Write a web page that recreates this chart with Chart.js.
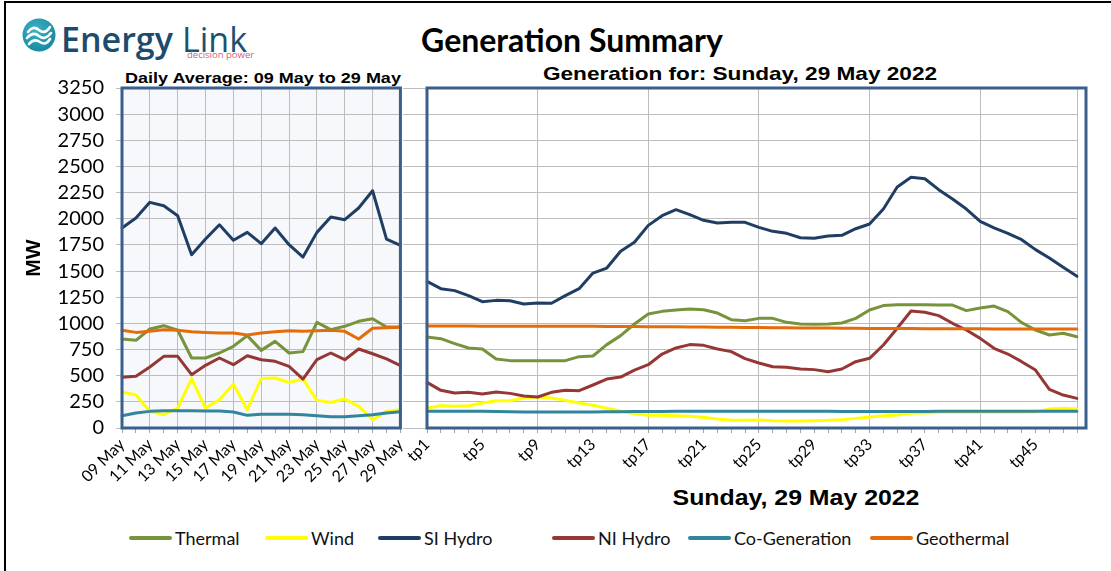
<!DOCTYPE html>
<html>
<head>
<meta charset="utf-8">
<script src="https://cdn.jsdelivr.net/npm/chart.js@4.4.1/dist/chart.umd.min.js"></script>
<style>
  body { margin: 0; background: #fff; width: 1111px; height: 571px; overflow: hidden; position: relative; }
  .t { position: absolute; white-space: nowrap; line-height: 1; color: #000; }
  .arialb { font-family: "Liberation Sans", Arial, sans-serif; font-weight: bold; }
  canvas { position: absolute; }
  .lg { position: absolute; top: 529px; height: 20px; font: 18px Lato, sans-serif; color: #111; white-space: nowrap; }
  .lg i { position: absolute; left: 0; top: 7px; width: 43px; height: 4px; border-radius: 2px; }
  .lg span { position: absolute; left: 46px; top: 0; line-height: 1; }
</style>
</head>
<body>
<div style="position:absolute;left:4px;top:1px;width:2px;height:570px;background:#000"></div>
<div style="position:absolute;left:4px;top:1px;width:1107px;height:2px;background:#000"></div>

<!-- logo -->
<svg style="position:absolute;left:20px;top:16px" width="38" height="38" viewBox="0 0 38 38">
  <defs><radialGradient id="lg1" cx="40%" cy="35%" r="70%"><stop offset="0" stop-color="#3db3c4"/><stop offset="1" stop-color="#17879d"/></radialGradient></defs>
  <circle cx="19" cy="19" r="16.5" fill="url(#lg1)"/>
  <path d="M8 16 q5 -7 11 -2 t11 -3" stroke="#fff" stroke-width="2.6" fill="none" stroke-linecap="round"/>
  <path d="M7 22 q6 -7 12 -2 t12 -3" stroke="#fff" stroke-width="2.6" fill="none" stroke-linecap="round"/>
  <path d="M9 28 q5 -6 11 -2 t10 -3" stroke="#fff" stroke-width="2.6" fill="none" stroke-linecap="round"/>
</svg>
<div class="t" style="left:61px;top:16px;font:600 34px 'Open Sans',sans-serif;color:#1c4c6d">Energy</div>
<div class="t" style="left:182px;top:16px;font:400 34px 'Open Sans',sans-serif;color:#1c5070">Link</div>
<div class="t" style="left:187px;top:48px;font:400 9.5px 'Open Sans',sans-serif;color:#d0607a">decision power</div>

<div class="t" style="left:572px;top:20px;font:bold 32px Lato,sans-serif;transform:translateX(-50%)">Generation Summary</div>
<div class="t arialb" style="left:263px;top:70px;font-size:15px;transform:translateX(-50%) scaleX(1.2)">Daily Average: 09 May to 29 May</div>
<div class="t arialb" style="left:740px;top:64px;font-size:19px;transform:translateX(-50%) scaleX(1.19)">Generation for: Sunday, 29 May 2022</div>
<div class="t arialb" style="left:796px;top:487px;font-size:22px;transform:translateX(-50%) scaleX(1.13)">Sunday, 29 May 2022</div>

<canvas id="daily" width="416" height="426" style="left:0;top:64px"></canvas>
<canvas id="day" width="700" height="420" style="left:400px;top:70px"></canvas>
<div id="legend"></div>

<script>
// series, in legend order
const seriesNames = ['Thermal', 'Wind', 'SI Hydro', 'NI Hydro', 'Co-Generation', 'Geothermal']
const seriesColors = ['#77933C', '#FFFF00', '#203E63', '#953735', '#31859C', '#E46C0A']

// left panel: daily averages 09 May - 29 May
const dailyDates = ['09 May', '10 May', '11 May', '12 May', '13 May', '14 May', '15 May', '16 May', '17 May', '18 May',
  '19 May', '20 May', '21 May', '22 May', '23 May', '24 May', '25 May', '26 May', '27 May', '28 May', '29 May']
const dailyThermal = [851, 838, 946, 978, 934, 669, 669, 717, 781, 883, 742, 828, 717, 730, 1010, 940, 972, 1020, 1045, 965, 965]
const dailyWind = [344, 315, 159, 127, 191, 472, 191, 271, 421, 175, 472, 478, 436, 468, 264, 245, 277, 207, 80, 159, 175]
const dailySI = [1912, 2007, 2157, 2125, 2029, 1657, 1806, 1943, 1794, 1870, 1762, 1912, 1752, 1634, 1870, 2017, 1991, 2103, 2268, 1806, 1746]
const dailyNI = [484, 494, 583, 685, 685, 510, 599, 669, 605, 691, 653, 637, 589, 468, 653, 717, 653, 755, 710, 660, 596]
const dailyCogen = [118, 143, 159, 166, 166, 166, 162, 162, 153, 121, 131, 131, 131, 127, 118, 108, 108, 118, 127, 143, 156]
const dailyGeo = [934, 914, 924, 940, 934, 920, 914, 908, 908, 889, 908, 920, 930, 924, 930, 934, 924, 851, 953, 959, 962]

// right panel: trading periods for Sunday 29 May 2022
const tpLabels = Array.from({ length: 48 }, (_, i) => 'tp' + (i + 1))
const tpThermal = [870, 854, 806, 765, 755, 660, 644, 644, 644, 644, 644, 682, 688, 797, 883, 994, 1090, 1115, 1128, 1137,
  1131, 1099, 1035, 1026, 1048, 1048, 1010, 994, 991, 994, 1004, 1048, 1128, 1170, 1178, 1178, 1178, 1176, 1175, 1122,
  1147, 1166, 1112, 1007, 937, 889, 905, 873]
const tpWind = [191, 213, 207, 213, 239, 261, 261, 287, 296, 287, 264, 239, 217, 188, 162, 137, 121, 121, 118, 112,
  102, 86, 73, 73, 76, 70, 67, 67, 70, 73, 80, 92, 105, 118, 124, 140, 143, 147, 150, 150,
  150, 150, 150, 150, 152, 181, 188, 181]
const tpSI = [1402, 1332, 1313, 1265, 1207, 1220, 1217, 1185, 1195, 1192, 1265, 1332, 1481, 1529, 1689, 1775, 1937, 2029, 2087, 2039,
  1985, 1959, 1966, 1966, 1918, 1880, 1861, 1819, 1813, 1835, 1842, 1905, 1950, 2093, 2303, 2396, 2383, 2278, 2189, 2093,
  1975, 1912, 1861, 1800, 1705, 1625, 1536, 1450]
const tpNI = [436, 360, 335, 341, 325, 344, 331, 306, 296, 341, 360, 357, 411, 468, 487, 554, 605, 707, 765, 797,
  790, 755, 730, 663, 621, 586, 580, 564, 558, 538, 564, 634, 666, 793, 953, 1118, 1106, 1074, 1001, 937,
  857, 762, 707, 634, 554, 370, 315, 283]
const tpCogen = [160, 160, 160, 160, 160, 158, 156, 154, 154, 154, 154, 154, 154, 155, 156, 157, 158, 158, 159, 159,
  160, 160, 160, 160, 160, 160, 160, 159, 159, 159, 158, 158, 158, 158, 158, 158, 158, 159, 159, 159,
  159, 159, 159, 160, 160, 160, 161, 161]
const tpGeo = [975, 975, 974, 974, 973, 973, 973, 972, 972, 973, 973, 972, 972, 971, 970, 970,
  969, 968, 967, 966, 965, 964, 962, 961, 960, 959, 958, 957, 956, 955, 954, 953,
  952, 951, 950, 950, 949, 949, 948, 948, 948, 947, 947, 947, 946, 946, 946, 946]

const yTicks = [0, 250, 500, 750, 1000, 1250, 1500, 1750, 2000, 2250, 2500, 2750, 3000, 3250]

const GRID = '#BDBDBD'
const TICK = '#A6A6A6'

// plot area fill + blue frame, like the Excel plot area
const frame = {
  id: 'frame',
  beforeDraw(chart, args, o) {
    const { ctx, chartArea: a } = chart
    ctx.save()
    ctx.fillStyle = o.fill
    ctx.fillRect(a.left, a.top, a.right - a.left + o.extra, a.bottom - a.top)
    ctx.restore()
  },
  afterDatasetsDraw(chart, args, o) {
    const { ctx, chartArea: a } = chart
    ctx.save()
    ctx.strokeStyle = '#3A5F8C'
    ctx.lineWidth = 3
    ctx.strokeRect(a.left, a.top, a.right - a.left + o.extra, a.bottom - a.top)
    ctx.restore()
  }
}

function datasets(values) {
  return values.map((data, i) => ({
    label: seriesNames[i],
    data,
    borderColor: seriesColors[i],
    backgroundColor: seriesColors[i],
    borderWidth: 3,
    pointRadius: 0,
    pointHoverRadius: 0,
    tension: 0,
    borderJoinStyle: 'round',
    borderCapStyle: 'round',
    order: values.length - 1 - i,
  }))
}

function yAxis(left) {
  return {
    min: 0, max: 3250,
    afterBuildTicks(s) { s.ticks = yTicks.map(v => ({ value: v })) },
    afterFit(s) { s.width = left ? 122 : 27 },
    border: { display: false },
    grid: { color: GRID, tickColor: GRID, tickLength: left ? 6 : 24 },
    ticks: {
      display: left, autoSkip: false, padding: 12, color: '#000',
      font: { family: 'Lato', size: 20 },
      callback: v => String(v)
    },
    title: left ? { display: true, text: 'MW', color: '#000', padding: { top: 22, bottom: 0 },
      font: { family: 'Liberation Sans', size: 21, weight: 'bold' } } : { display: false },
  }
}

function xAxis(labelAt, gridAt) {
  return {
    afterFit(s) { s.height = 62 },
    border: { display: false },
    grid: { color: c => gridAt(c.index) ? GRID : 'rgba(0,0,0,0)', tickColor: TICK, tickLength: 5 },
    ticks: {
      autoSkip: false, maxRotation: 45, minRotation: 45, padding: 2, color: '#000',
      font: { family: 'Lato', size: 16 },
      callback(v, i) { return labelAt(i) ? this.getLabelForValue(v) : '' }
    }
  }
}

function make(id, labels, values, xs, pad, fill, extra, left) {
  return new Chart(document.getElementById(id), {
    type: 'line',
    data: { labels, datasets: datasets(values) },
    options: {
      responsive: false, animation: false, devicePixelRatio: 1,
      layout: { autoPadding: false, padding: { top: pad.top, right: pad.right, left: 0, bottom: 0 } },
      plugins: { legend: { display: false }, tooltip: { enabled: false }, frame: { fill, extra } },
      scales: { x: xs, y: yAxis(left) }
    },
    plugins: [frame]
  })
}

// left canvas: the top tick label and last date label already reserve 24px / ~16px,
// so the canvas itself is shifted to put the plot area at 122..400 x 88..428
make('daily', dailyDates, [dailyThermal, dailyWind, dailySI, dailyNI, dailyCogen, dailyGeo],
  xAxis(i => i % 2 === 0, i => i % 2 === 0), { top: 24, right: 0 }, '#F6F8FC', 0, true)
make('day', tpLabels, [tpThermal, tpWind, tpSI, tpNI, tpCogen, tpGeo],
  xAxis(i => i % 4 === 0 && i <= 44, i => i % 8 === 0 || i === 47), { top: 18, right: 23 }, '#FFFFFF', 9, false)

// legend
const legendX = [129, 265, 378, 552, 688, 870]
const lg = document.getElementById('legend')
seriesNames.forEach((n, i) => {
  const d = document.createElement('div')
  d.className = 'lg'
  d.style.left = legendX[i] + 'px'
  d.innerHTML = '<i style="background:' + seriesColors[i] + '"></i><span>' + n + '</span>'
  lg.appendChild(d)
})
</script>
</body>
</html>
